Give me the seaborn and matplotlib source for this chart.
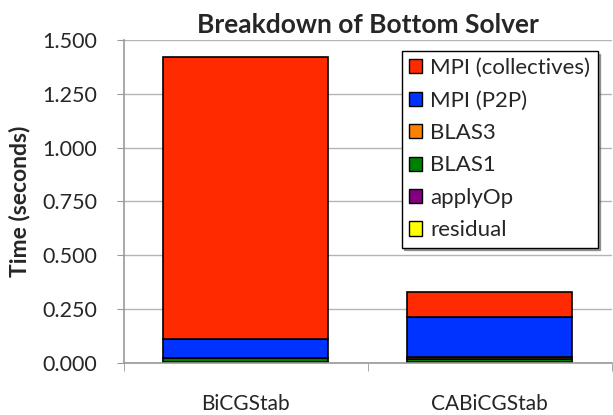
import matplotlib
matplotlib.use("Agg")
import matplotlib.pyplot as plt
import seaborn as sns
import pandas as pd
import numpy as np
from matplotlib.patches import Patch

# solvers on the x axis
SOLVERS = ["BiCGStab", "CABiCGStab"]

# time per component (seconds), stacked bottom -> top
RESIDUAL    = [0.001, 0.001]
APPLYOP     = [0.002, 0.002]
BLAS1       = [0.020, 0.017]
BLAS3       = [0.000, 0.008]
MPI_P2P     = [0.088, 0.186]
MPI_COLL    = [1.310, 0.116]

COMPONENTS = ["residual", "applyOp", "BLAS1", "BLAS3", "MPI (P2P)", "MPI (collectives)"]
VALUES = [RESIDUAL, APPLYOP, BLAS1, BLAS3, MPI_P2P, MPI_COLL]
CORES = ["#FFFF00", "#800080", "#008000", "#FF7F00", "#0033FF", "#FF2A00"]

YTICKS = [0.0, 0.25, 0.5, 0.75, 1.0, 1.25, 1.5]

sns.set_style("white")
plt.rcParams["font.family"] = ["Lato", "DejaVu Sans"]

df = pd.DataFrame({"solver": SOLVERS})
for nome, vals in zip(COMPONENTS, VALUES):
    df[nome] = vals

fig = plt.figure(figsize=(6.13, 4.15), dpi=100)
ax = fig.add_axes([0.202, 0.125, 0.796, 0.779])

base = np.zeros(len(SOLVERS))
for nome, cor in zip(COMPONENTS, CORES):
    sns.barplot(data=df, x="solver", y=nome, bottom=base, color=cor,
                edgecolor="black", linewidth=1.2, width=0.675,
                saturation=1, ax=ax)
    base = base + df[nome].to_numpy()

ax.set_xlim(-0.5, 1.5)
ax.set_ylim(0, 1.5)
ax.set_yticks(YTICKS)
ax.set_yticklabels([f"{v:.3f}" for v in YTICKS])
ax.set_xlabel("")
ax.set_ylabel("Time (seconds)", fontsize=16.5, fontweight="bold", labelpad=9)
ax.set_title("Breakdown of Bottom Solver", fontsize=19, fontweight="bold", pad=5)

ax.yaxis.grid(True, color="#b4b4b4", linewidth=1)
ax.set_axisbelow(True)
for lado in ["top", "right"]:
    ax.spines[lado].set_visible(False)
for lado in ["left", "bottom"]:
    ax.spines[lado].set_color("#999999")
    ax.spines[lado].set_linewidth(1.2)

ax.tick_params(axis="y", direction="out", length=5, color="#999999",
               labelsize=15.5, pad=14, left=True)
ax.tick_params(axis="x", which="major", length=0, labelsize=15, pad=22)
ax.set_xticks([-0.5, 0.5, 1.5], minor=True)
ax.tick_params(axis="x", which="minor", direction="out", length=6,
               color="#999999", bottom=True)

handles = [Patch(facecolor=c, edgecolor="black", label=n)
           for n, c in zip(COMPONENTS[::-1], CORES[::-1])]
leg = ax.legend(handles=handles, loc="upper right", bbox_to_anchor=(0.971, 0.966),
                fontsize=16, frameon=True, fancybox=False, shadow=True,
                handlelength=0.6, handleheight=0.6, handletextpad=0.36,
                labelspacing=0.56, borderpad=0.33, borderaxespad=0)
leg.get_frame().set_edgecolor("black")
leg.get_frame().set_linewidth(1)

fig.savefig("out.png", dpi=100)
plt.close(fig)
